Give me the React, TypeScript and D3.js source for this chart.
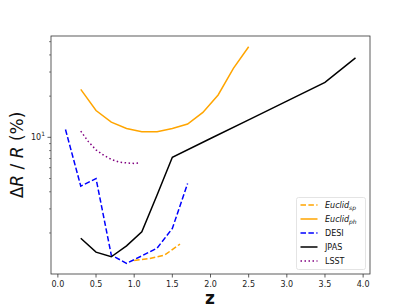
import React from 'react';
import * as d3 from 'd3';

// redshift grids and fractional errors (%)
const euclidSpZ = [1.0, 1.2, 1.4, 1.6];
const euclidSpV = [1.26, 1.3, 1.38, 1.66];

const euclidPhZ = [0.3, 0.5, 0.7, 0.9, 1.1, 1.3, 1.5, 1.7, 1.9, 2.1, 2.3, 2.5];
const euclidPhV = [22.4, 15.7, 12.9, 11.6, 11.0, 11.0, 11.6, 12.5, 15.2, 20.4, 31.9, 45.9];

const desiZ = [0.1, 0.3, 0.5, 0.7, 0.9, 1.1, 1.3, 1.5, 1.7];
const desiV = [11.4, 4.4, 5.0, 1.38, 1.2, 1.36, 1.55, 2.16, 4.6];

const jpasZ = [0.3, 0.5, 0.7, 0.9, 1.1, 1.3, 1.5, 2.0, 2.5, 3.0, 3.5, 3.9];
const jpasV = [1.83, 1.45, 1.34, 1.61, 2.04, 3.79, 7.15, 9.8, 13.4, 18.4, 25.2, 38.1];

const lsstZ = [0.3, 0.4, 0.5, 0.6, 0.7, 0.8, 0.9, 1.0, 1.08];
const lsstV = [11.1, 9.3, 8.1, 7.4, 6.9, 6.6, 6.5, 6.45, 6.5];

const xTicks = [0, 0.5, 1, 1.5, 2, 2.5, 3, 3.5, 4];
const yMinorTicks = [2, 3, 4, 5, 6, 7, 8, 9, 20, 30, 40, 50];

const series = [
  { name: 'Euclid', sub: 'sp', z: euclidSpZ, v: euclidSpV, color: '#FFA500', dash: '5.5,2.4' },
  { name: 'Euclid', sub: 'ph', z: euclidPhZ, v: euclidPhV, color: '#FFA500', dash: null },
  { name: 'DESI', sub: null, z: desiZ, v: desiV, color: '#0000FF', dash: '5.5,2.4' },
  { name: 'JPAS', sub: null, z: jpasZ, v: jpasV, color: '#000000', dash: null },
  { name: 'LSST', sub: null, z: lsstZ, v: lsstV, color: '#800080', dash: '1.5,2.5' },
];

const W = 411;
const H = 308;
const left = 51, right = 370, top = 36, bottom = 274;

export default function App() {
  const x = d3.scaleLinear().domain([-0.09, 4.09]).range([left, right]);
  const y = d3.scaleLog().domain([1.003, 55]).range([bottom, top]);

  const line = d3.line<[number, number]>()
    .x(d => x(d[0]))
    .y(d => y(d[1]));

  const font = 'DejaVu Sans';

  return (
    <svg width={W} height={H} style={{ position: 'absolute', left: 0, top: 0, background: '#fff' }} fontFamily={font}>
      {series.map((s, i) => (
        <path key={i}
          d={line(s.z.map((z, j) => [z, s.v[j]] as [number, number])) || ''}
          fill="none" stroke={s.color} strokeWidth={1.5}
          strokeDasharray={s.dash || undefined} />
      ))}

      <rect x={left} y={top} width={right - left} height={bottom - top} fill="none" stroke="#333" strokeWidth={0.8} />

      {xTicks.map(t => (
        <g key={t}>
          <line x1={x(t)} x2={x(t)} y1={bottom} y2={bottom + 3.5} stroke="#333" strokeWidth={0.8} />
          <text x={x(t)} y={bottom + 12.5} fontSize={8} textAnchor="middle" fill="#222">{t.toFixed(1)}</text>
        </g>
      ))}

      <line x1={left - 3.5} x2={left} y1={y(10)} y2={y(10)} stroke="#333" strokeWidth={0.8} />
      <text x={left - 6} y={y(10) + 3} fontSize={8} textAnchor="end" fill="#222">
        10<tspan dy={-4} fontSize={6}>1</tspan>
      </text>
      {yMinorTicks.map(t => (
        <line key={t} x1={left - 2} x2={left} y1={y(t)} y2={y(t)} stroke="#333" strokeWidth={0.6} />
      ))}

      <text x={210} y={303.5} fontSize={17} fontWeight="bold" textAnchor="middle" fill="#111">z</text>
      <text transform={`translate(23,${(top + bottom) / 2}) rotate(-90)`} fontSize={17} textAnchor="middle" fill="#111">
        Δ<tspan fontStyle="italic">R</tspan> / <tspan fontStyle="italic">R</tspan> (%)
      </text>

      <g>
        <rect x={296.5} y={197.5} width={69} height={72} rx={2} fill="#fff" fillOpacity={0.8} stroke="#ddd" strokeWidth={0.8} />
        {series.map((s, i) => {
          const ly = 205 + i * 14;
          return (
            <g key={i}>
              <line x1={300.5} x2={317.5} y1={ly} y2={ly} stroke={s.color} strokeWidth={1.5} strokeDasharray={s.dash || undefined} />
              <text x={325} y={ly + 3} fontSize={8} fill="#111">
                {s.sub ? (
                  <>
                    <tspan fontStyle="italic">{s.name}</tspan>
                    <tspan fontStyle="italic" fontSize={6} dy={2}>{s.sub}</tspan>
                  </>
                ) : s.name}
              </text>
            </g>
          );
        })}
      </g>
    </svg>
  );
}
